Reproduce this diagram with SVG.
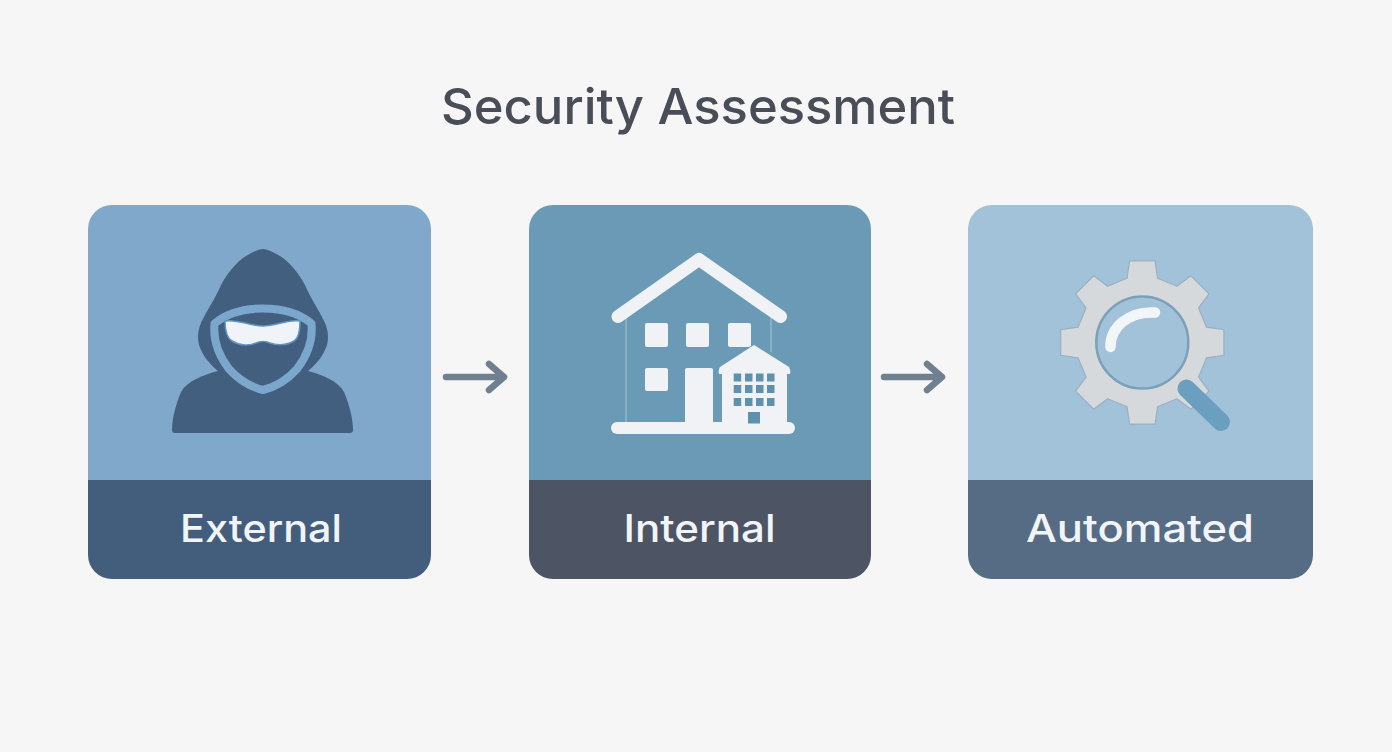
<svg xmlns="http://www.w3.org/2000/svg" width="1392" height="752" viewBox="0 0 1392 752">
<style>
text{font-family:"Inter","Open Sans","Liberation Sans",sans-serif;font-weight:500;text-anchor:middle}
.title{font-size:50px;fill:#484d57}
.label{font-size:38px;fill:#f2f5f8}
.arrow{fill:none;stroke:#6f8090;stroke-width:6.5;stroke-linecap:round;stroke-linejoin:round}
.w{fill:#f0f2f5}
.bw{fill:#5f90ae}
</style>
<defs>
<clipPath id="c1"><rect x="88" y="205" width="343" height="374" rx="24"/></clipPath>
<clipPath id="c2"><rect x="529" y="205" width="342" height="374" rx="24"/></clipPath>
<clipPath id="c3"><rect x="968" y="205" width="345" height="374" rx="24"/></clipPath>
</defs>
<rect width="1392" height="752" fill="#f6f6f7"/>
<text class="title" x="698" y="124" textLength="514" lengthAdjust="spacingAndGlyphs">Security Assessment</text>
<g id="external">
<g clip-path="url(#c1)"><rect x="88" y="205" width="343" height="275" fill="#80a8ca"/><rect x="88" y="480" width="343" height="99" fill="#435e7d"/></g>
<path d="M218 371C203 375 187 381 181 392C176 404 172 418 172 430Q172 433 175 433H350Q353 433 353 430C353 418 349 404 344 392C338 381 323 375 308 371Z" fill="#435f80"/>
<path d="M263 249C259 249 253 252 246 256C236 262 227 274 221 285C216 297 206 312 201 323C197 332 197 342 201 350C205 359 212 366 220 373L263 395L306 373C314 366 321 359 325 350C329 342 329 332 325 323C320 312 310 297 305 285C299 274 290 262 280 256C273 252 267 249 263 249Z" fill="#435f80"/>
<path d="M263 308.500C244 308.500 227 313 214.500 323.500C213 340 219 356 229 369C238 379 251 387 263 390C275 387 288 379 297 369C307 356 313 340 311.500 323.500C299 313 282 308.500 263 308.500Z" fill="#435f80" stroke="#7ba7cc" stroke-width="8" stroke-linejoin="round"/>
<path d="M225 321C238 319 250 326 263 326C276 326 288 319 300 321C300 330 299 338 294 341C286 346 275 345 270 343C266 341 260 341 256 343C250 346 240 346 232 341C227 338 225 330 225 321Z" fill="#f0f4f8" stroke="#5f94c2" stroke-width="1.500"/>
</g>
<g id="internal">
<g clip-path="url(#c2)"><rect x="529" y="205" width="342" height="275" fill="#6a9ab6"/><rect x="529" y="480" width="342" height="99" fill="#4d5463"/></g>
<path d="M626 317V423M771 317V352" fill="none" stroke="#a5c5d8" stroke-width="1"/>
<path d="M618 316.500L699 259.500L780.500 316.500" fill="none" stroke="#f0f2f5" stroke-width="13" stroke-linecap="round" stroke-linejoin="round"/>
<rect class="w" x="645" y="323" width="23" height="24" rx="2"/>
<rect class="w" x="686" y="323" width="23" height="24" rx="2"/>
<rect class="w" x="728" y="323" width="23" height="24" rx="2"/>
<rect class="w" x="645" y="368" width="23" height="23" rx="2"/>
<rect class="w" x="685" y="368" width="28" height="58" rx="2"/>
<rect class="w" x="611" y="422" width="184" height="12" rx="6"/>
<path class="w" d="M754 345L789 367Q791 371 790 374H787V425H722V374H719Q718 370 720 367Z"/>
<g class="bw">
<rect x="733.700" y="373.500" width="7.500" height="8"/><rect x="745" y="373.500" width="7.500" height="8"/><rect x="756" y="373.500" width="7.500" height="8"/><rect x="767" y="373.500" width="7.500" height="8"/>
<rect x="733.700" y="385" width="7.500" height="8"/><rect x="745" y="385" width="7.500" height="8"/><rect x="756" y="385" width="7.500" height="8"/><rect x="767" y="385" width="7.500" height="8"/>
<rect x="733.700" y="398" width="7.500" height="8"/><rect x="745" y="398" width="7.500" height="8"/><rect x="756" y="398" width="7.500" height="8"/><rect x="767" y="398" width="7.500" height="8"/>
<rect x="748" y="412" width="12" height="11.500"/>
</g>
</g>
<g id="automated">
<g clip-path="url(#c3)"><rect x="968" y="205" width="345" height="275" fill="#a2c2da"/><rect x="968" y="480" width="345" height="99" fill="#566b84"/></g>
<g transform="translate(1142.300 342.500)">
<path transform="scale(1.02)" d="M-15 -63L-12.500 -80H12.500L15 -63L33.900 -55.200L47.700 -65.400L65.400 -47.700L55.200 -33.900L63 -15L80 -12.500V12.500L63 15L55.200 33.900L65.400 47.700L47.700 65.400L33.900 55.200L15 63L12.500 80H-12.500L-15 63L-33.900 55.200L-47.700 65.400L-65.400 47.700L-55.200 33.900L-63 15L-80 12.500V-12.500L-63 -15L-55.200 -33.900L-65.400 -47.700L-47.700 -65.400L-33.900 -55.200Z" fill="#d6d9dc" stroke="#9ab0c2" stroke-width="1.200" stroke-linejoin="round"/>
<circle r="46" fill="#a2c2da" stroke="#7ba0ba" stroke-width="2.500"/>
</g>
<path d="M1110.500 347C1110 328 1128 311 1155 312.500" fill="none" stroke="#f3f6f8" stroke-width="10.500" stroke-linecap="round"/>
<path d="M1186.500 388.500L1221 422" fill="none" stroke="#6a9fc0" stroke-width="18" stroke-linecap="round"/>
</g>
<g id="connectors">
<path class="arrow" d="M446 377H503M489 364L504 377L489 390"/>
<path class="arrow" d="M884 377H941M927 364L942 377L927 390"/>
</g>
<text class="label" x="261" y="542" textLength="162" lengthAdjust="spacingAndGlyphs">External</text>
<text class="label" x="699.500" y="542" textLength="152" lengthAdjust="spacingAndGlyphs">Internal</text>
<text class="label" x="1140" y="542" textLength="228" lengthAdjust="spacingAndGlyphs">Automated</text>
</svg>
